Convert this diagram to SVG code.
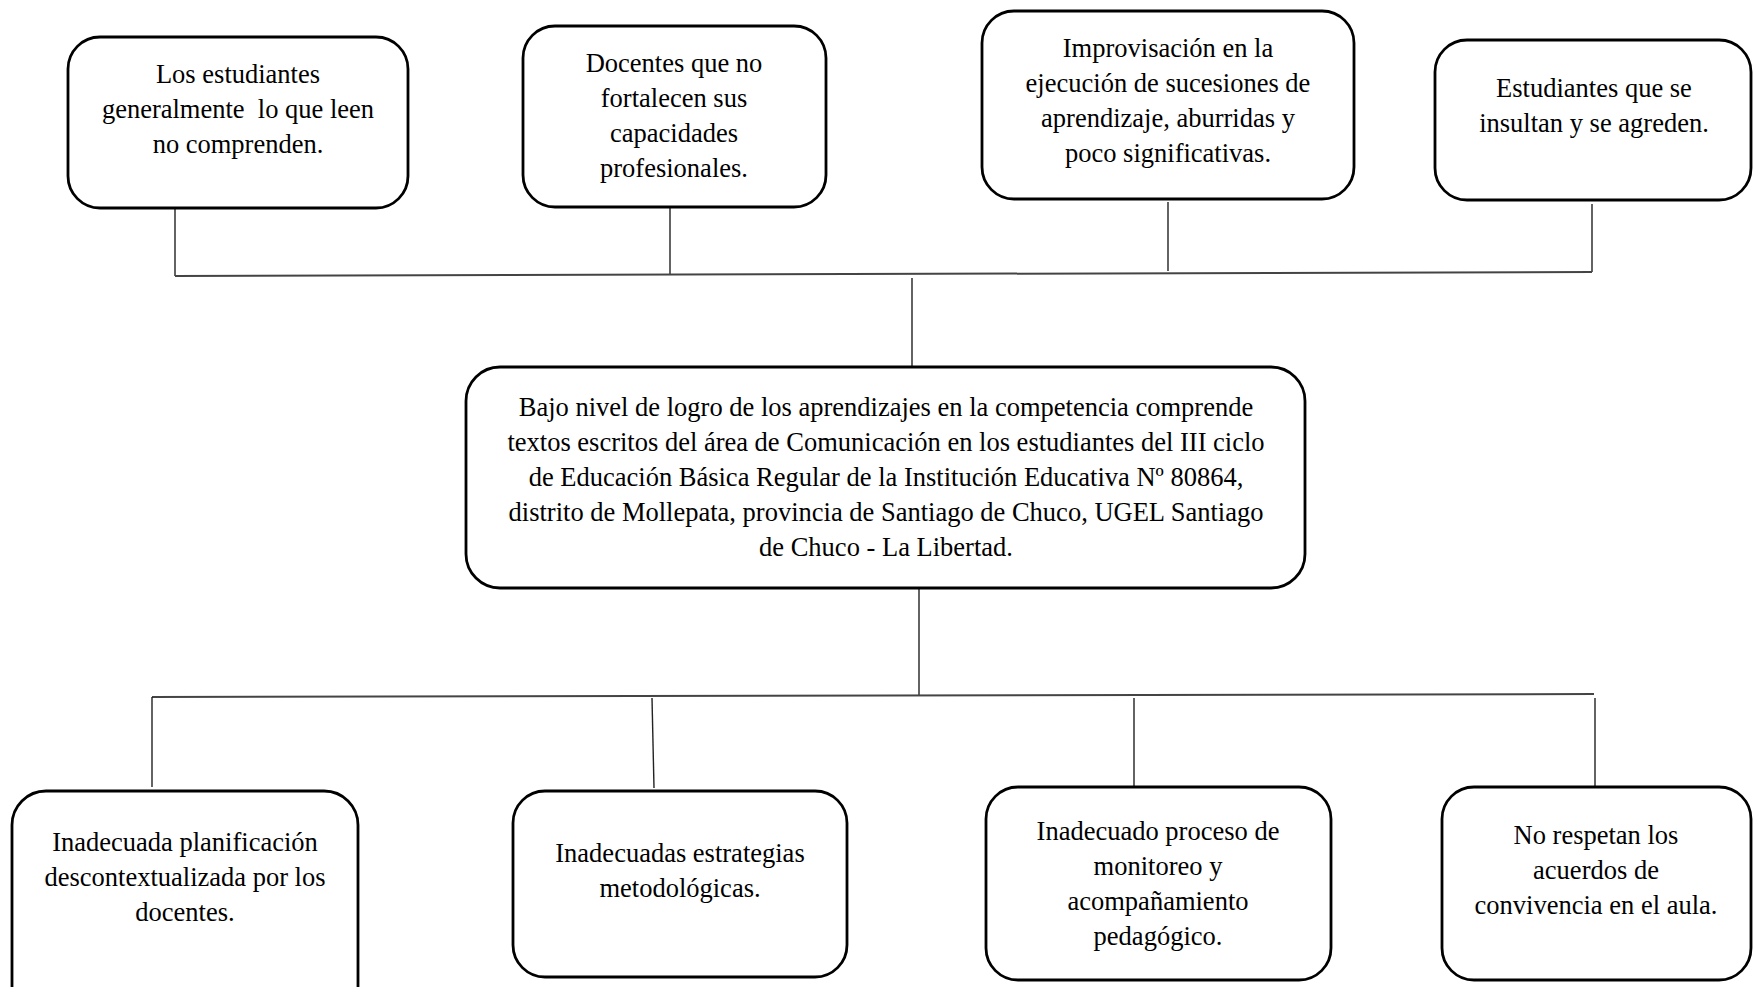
<svg xmlns="http://www.w3.org/2000/svg" width="1754" height="987" viewBox="0 0 1754 987">
<style>
.box{fill:#fff;stroke:#000;stroke-width:2.8}
.t{font-family:"Liberation Serif","Times New Roman",serif;font-size:26.5px;fill:#000;text-anchor:middle}
.c line{stroke:#222;stroke-width:1.4;fill:none}
.c .h{stroke:#444;stroke-width:2}
</style>
<rect width="1754" height="987" fill="#fff"/>
<g class="c" id="connectors">
<line x1="175" y1="208" x2="175" y2="276"/>
<line x1="670" y1="207" x2="670" y2="275"/>
<line x1="1168" y1="202" x2="1168" y2="271"/>
<line x1="1592" y1="204" x2="1592" y2="272"/>
<line class="h" x1="175" y1="276" x2="1592" y2="272"/>
<line x1="912" y1="278" x2="912" y2="367"/>
<line x1="919" y1="588" x2="919" y2="695"/>
<line class="h" x1="152" y1="697" x2="1594" y2="694"/>
<line x1="152" y1="697" x2="152" y2="787"/>
<line x1="652" y1="698" x2="654" y2="788"/>
<line x1="1134" y1="698" x2="1134" y2="786"/>
<line x1="1595" y1="698" x2="1595" y2="786"/>
</g>
<g id="n1">
<rect class="box" x="68" y="37" width="340" height="171" rx="32"/>
<text class="t" x="238" y="83">Los estudiantes</text>
<text class="t" x="238" y="118" xml:space="preserve">generalmente  lo que leen</text>
<text class="t" x="238" y="153">no comprenden.</text>
</g>
<g id="n2">
<rect class="box" x="523" y="26" width="303" height="181" rx="32"/>
<text class="t" x="674" y="72">Docentes que no</text>
<text class="t" x="674" y="107">fortalecen sus</text>
<text class="t" x="674" y="142">capacidades</text>
<text class="t" x="674" y="177">profesionales.</text>
</g>
<g id="n3">
<rect class="box" x="982" y="11" width="372" height="188" rx="32"/>
<text class="t" x="1168" y="57">Improvisación en la</text>
<text class="t" x="1168" y="92">ejecución de sucesiones de</text>
<text class="t" x="1168" y="127">aprendizaje, aburridas y</text>
<text class="t" x="1168" y="162">poco significativas.</text>
</g>
<g id="n4">
<rect class="box" x="1435" y="40" width="316" height="160" rx="32"/>
<text class="t" x="1594" y="97">Estudiantes que se</text>
<text class="t" x="1594" y="132">insultan y se agreden.</text>
</g>
<g id="n0">
<rect class="box" x="466" y="367" width="839" height="221" rx="34"/>
<text class="t" x="886" y="416">Bajo nivel de logro de los aprendizajes en la competencia comprende</text>
<text class="t" x="886" y="451">textos escritos del área de Comunicación en los estudiantes del III ciclo</text>
<text class="t" x="886" y="486">de Educación Básica Regular de la Institución Educativa Nº 80864,</text>
<text class="t" x="886" y="521">distrito de Mollepata, provincia de Santiago de Chuco, UGEL Santiago</text>
<text class="t" x="886" y="556">de Chuco - La Libertad.</text>
</g>
<g id="n5">
<rect class="box" x="12" y="791" width="346" height="230" rx="34"/>
<text class="t" x="185" y="851">Inadecuada planificación</text>
<text class="t" x="185" y="886">descontextualizada por los</text>
<text class="t" x="185" y="921">docentes.</text>
</g>
<g id="n6">
<rect class="box" x="513" y="791" width="334" height="186" rx="32"/>
<text class="t" x="680" y="862">Inadecuadas estrategias</text>
<text class="t" x="680" y="897">metodológicas.</text>
</g>
<g id="n7">
<rect class="box" x="986" y="787" width="345" height="193" rx="32"/>
<text class="t" x="1158" y="840">Inadecuado proceso de</text>
<text class="t" x="1158" y="875">monitoreo y</text>
<text class="t" x="1158" y="910">acompañamiento</text>
<text class="t" x="1158" y="945">pedagógico.</text>
</g>
<g id="n8">
<rect class="box" x="1442" y="787" width="309" height="193" rx="32"/>
<text class="t" x="1596" y="844">No respetan los</text>
<text class="t" x="1596" y="879">acuerdos de</text>
<text class="t" x="1596" y="914">convivencia en el aula.</text>
</g>
</svg>
